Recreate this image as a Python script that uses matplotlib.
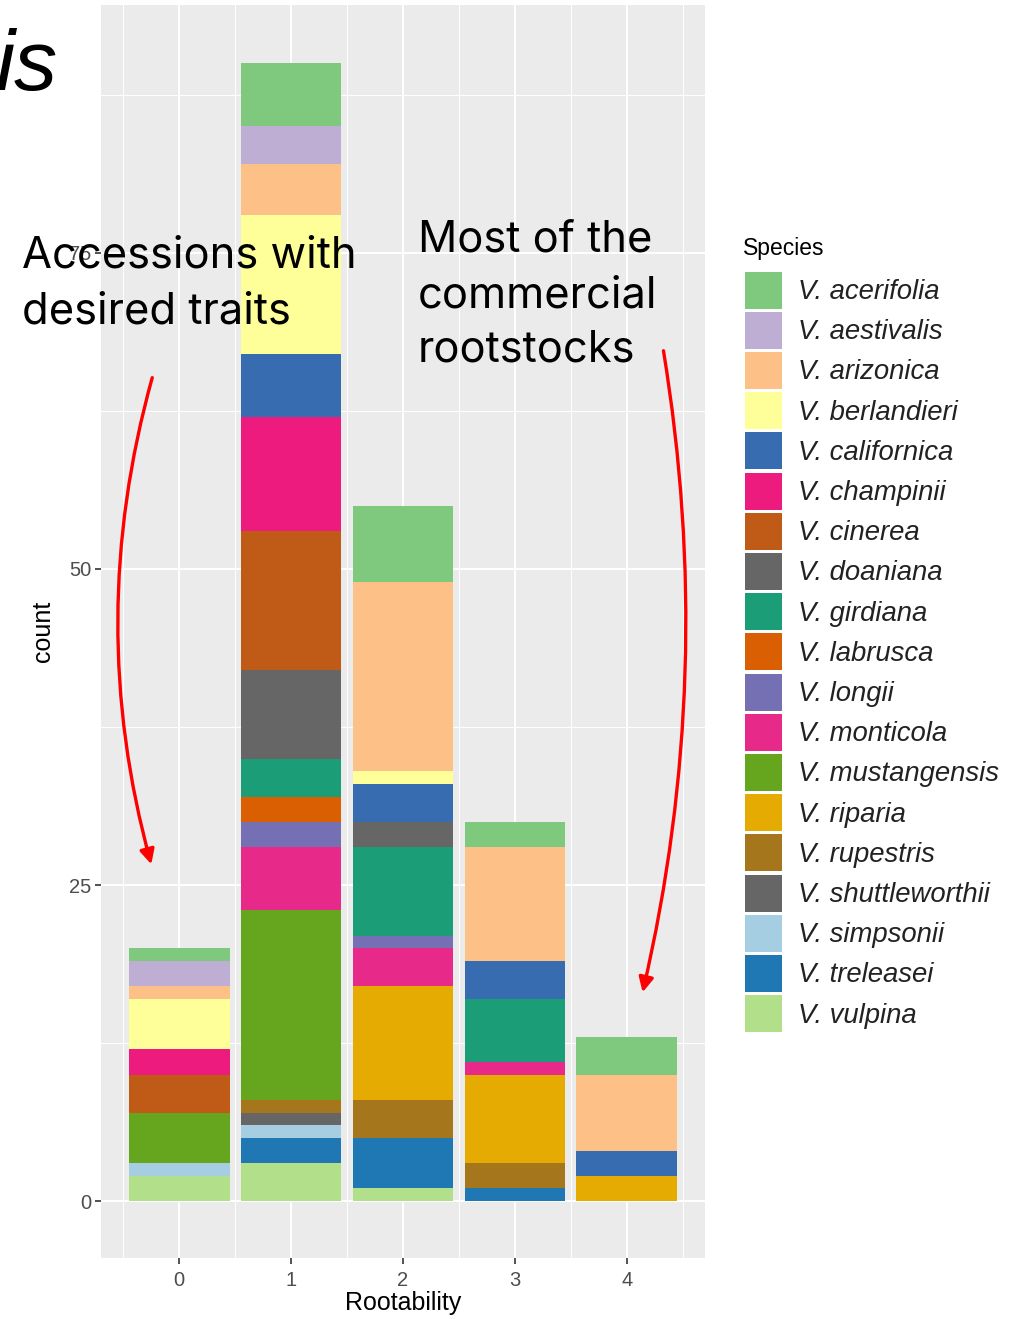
import numpy as np
import matplotlib
matplotlib.use("Agg")
import matplotlib.pyplot as plt
from matplotlib.patches import Rectangle, FancyArrowPatch

# rootability classes on the x axis
rootability = [0, 1, 2, 3, 4]

# species in legend order (first one ends up on top of each stack)
species = [
    "acerifolia", "aestivalis", "arizonica", "berlandieri", "californica",
    "champinii", "cinerea", "doaniana", "girdiana", "labrusca", "longii",
    "monticola", "mustangensis", "riparia", "rupestris", "shuttleworthii",
    "simpsonii", "treleasei", "vulpina",
]

# counts per rootability class
acerifolia = [1, 5, 6, 2, 3]
aestivalis = [2, 3, 0, 0, 0]
arizonica = [1, 4, 15, 9, 6]
berlandieri = [4, 11, 1, 0, 0]
californica = [0, 5, 3, 3, 2]
champinii = [2, 9, 0, 0, 0]
cinerea = [3, 11, 0, 0, 0]
doaniana = [0, 7, 2, 0, 0]
girdiana = [0, 3, 7, 5, 0]
labrusca = [0, 2, 0, 0, 0]
longii = [0, 2, 1, 0, 0]
monticola = [0, 5, 3, 1, 0]
mustangensis = [4, 15, 0, 0, 0]
riparia = [0, 0, 9, 7, 2]
rupestris = [0, 1, 3, 2, 0]
shuttleworthii = [0, 1, 0, 0, 0]
simpsonii = [1, 1, 0, 0, 0]
treleasei = [0, 2, 4, 1, 0]
vulpina = [2, 3, 1, 0, 0]

counts = {
    "acerifolia": acerifolia, "aestivalis": aestivalis, "arizonica": arizonica,
    "berlandieri": berlandieri, "californica": californica, "champinii": champinii,
    "cinerea": cinerea, "doaniana": doaniana, "girdiana": girdiana,
    "labrusca": labrusca, "longii": longii, "monticola": monticola,
    "mustangensis": mustangensis, "riparia": riparia, "rupestris": rupestris,
    "shuttleworthii": shuttleworthii, "simpsonii": simpsonii,
    "treleasei": treleasei, "vulpina": vulpina,
}

# Accent + Dark2 + Paired, as in the original ggplot
colors = [
    "#7FC97F", "#BEAED4", "#FDC086", "#FFFF99", "#386CB0", "#EE1B7E", "#BF5B17",
    "#666666", "#1B9E77", "#D95F02", "#7570B3", "#E7298A", "#66A61E", "#E6AB02",
    "#A6761D", "#666666", "#A6CEE3", "#1F78B4", "#B2DF8A",
]

W, H = 1014, 1319
fig = plt.figure(figsize=(W / 100, H / 100), dpi=100)
fig.patch.set_facecolor("white")

ax = fig.add_axes([101 / W, 1 - 1258 / H, (705 - 101) / W, (1258 - 5) / H])
ax.set_facecolor("#EBEBEB")

# stack from the bottom: last species first
bottom = np.zeros(len(rootability))
for name, col in reversed(list(zip(species, colors))):
    vals = np.array(counts[name], dtype=float)
    ax.bar(rootability, vals, width=0.9, bottom=bottom, color=col, linewidth=0, zorder=3)
    bottom += vals

ax.set_xlim(-0.7, 4.7)
ax.set_ylim(-4.5, 94.6)
ax.set_yticks([0, 25, 50, 75])
ax.set_yticks([12.5, 37.5, 62.5, 87.5], minor=True)
ax.set_xticks(rootability)
ax.set_xticks([-0.5, 0.5, 1.5, 2.5, 3.5, 4.5], minor=True)
ax.grid(which="major", color="white", linewidth=1.4, zorder=0)
ax.grid(which="minor", color="white", linewidth=0.7, zorder=0)
ax.set_axisbelow(True)
for s in ax.spines.values():
    s.set_visible(False)
ax.tick_params(which="major", length=4, width=1.2, color="#333333",
               labelsize=14.5, labelcolor="#4D4D4D")
ax.tick_params(axis="x", pad=5)
ax.tick_params(axis="y", pad=3)
ax.tick_params(which="minor", length=0)
ax.tick_params(axis="y", labelfontfamily="Liberation Sans")
ax.tick_params(axis="x", labelfontfamily="Liberation Sans")
ax.set_xlabel("Rootability", fontsize=18, family="Liberation Sans", labelpad=1)
ax.set_ylabel("count", fontsize=18, family="Liberation Sans", labelpad=10)

# overlay in pixel coordinates for legend, notes and arrows
ov = fig.add_axes([0, 0, 1, 1])
ov.set_xlim(0, W)
ov.set_ylim(H, 0)
ov.axis("off")
ov.patch.set_alpha(0)

ov.text(743, 255, "Species", fontsize=16.5, family="Liberation Sans", va="baseline")
for i, (name, col) in enumerate(zip(species, colors)):
    yc = 290 + 40.2 * i
    ov.add_patch(Rectangle((745, yc - 18.5), 37, 37, facecolor=col, linewidth=0))
    ov.text(798, yc + 9, "V. " + name, fontsize=19.8, style="italic",
            family="Liberation Sans", va="baseline", color="#222222")

ov.text(-4, 90, "is", fontsize=62, style="italic", family="Liberation Sans",
        va="baseline", ha="left")

ov.text(22, 268, "Accessions with", fontsize=31.3, family="Inter", va="baseline")
ov.text(22, 323, "desired traits", fontsize=31.3, family="Inter", va="baseline")
ov.text(418, 252, "Most of the", fontsize=31.3, family="Inter", va="baseline")
ov.text(418, 307, "commercial", fontsize=31.3, family="Inter", va="baseline")
ov.text(418, 362, "rootstocks", fontsize=31.3, family="Inter", va="baseline")

ov.add_patch(FancyArrowPatch((153, 375), (152, 867), connectionstyle="arc3,rad=0.14",
                             arrowstyle="-|>", mutation_scale=22, color="red", lw=2.4))
ov.add_patch(FancyArrowPatch((663, 348), (642, 995), connectionstyle="arc3,rad=-0.1",
                             arrowstyle="-|>", mutation_scale=22, color="red", lw=2.4))

fig.savefig("out.png", dpi=100)
